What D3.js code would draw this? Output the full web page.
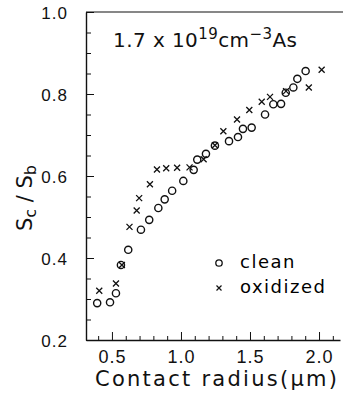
<!DOCTYPE html>
<html>
<head>
<meta charset="utf-8">
<script src="https://cdn.jsdelivr.net/npm/d3@7"></script>
<style>
  body { margin: 0; background: #fff; }
  svg { display: block; font-family: "DejaVu Sans", sans-serif; }
  .axis path, .axis line { stroke: #111; }
  .axis text { font-size: 16px; fill: #111; letter-spacing: 1px; }
</style>
</head>
<body>
<svg width="343" height="404"></svg>
<script>
// clean contacts: radius (um), Sc/Sb
var cleanRadius = [0.393, 0.486, 0.529, 0.565, 0.618, 0.710, 0.770, 0.836, 0.882, 0.936,
  1.017, 1.092, 1.118, 1.181, 1.246, 1.348, 1.413, 1.449, 1.512, 1.609,
  1.669, 1.725, 1.759, 1.814, 1.843, 1.903];
var cleanRatio = [0.290, 0.292, 0.314, 0.383, 0.420, 0.469, 0.493, 0.522, 0.543, 0.564,
  0.588, 0.615, 0.640, 0.654, 0.674, 0.685, 0.695, 0.715, 0.718, 0.750,
  0.775, 0.776, 0.803, 0.816, 0.837, 0.856];

// oxidized contacts
var oxRadius = [0.408, 0.529, 0.572, 0.627, 0.679, 0.697, 0.775, 0.826, 0.893, 0.972,
  1.062, 1.164, 1.246, 1.307, 1.406, 1.495, 1.585, 1.645, 1.761, 1.926, 2.019];
var oxRatio = [0.320, 0.338, 0.383, 0.476, 0.516, 0.546, 0.580, 0.616, 0.619, 0.620,
  0.621, 0.641, 0.675, 0.709, 0.738, 0.761, 0.781, 0.793, 0.807, 0.816, 0.859];

var xMajor = [0.5, 1.0, 1.5, 2.0];
var yMajor = [0.2, 0.4, 0.6, 0.8, 1.0];

var svg = d3.select("svg"),
  width = 343;

var x = d3.scaleLinear().domain([0.312, 2.152]).range([86, 340]);
var y = d3.scaleLinear().domain([0.2, 1.0]).range([340, 12]);

var fmt = d3.format(".1f");

// x axis: minor ticks then major ticks with labels (ticks point inward)
var xMinor = d3.range(4, 22).map(function(d) { return d / 10; })
  .filter(function(d) { return xMajor.indexOf(d) < 0; });

svg.append("g")
  .attr("class", "axis")
  .attr("transform", "translate(0," + y(0.2) + ")")
  .call(d3.axisBottom(x).tickValues(xMinor).tickSizeInner(-4).tickSizeOuter(0).tickFormat(""))
  .call(function(g) { g.select(".domain").remove(); });

svg.append("g")
  .attr("class", "axis")
  .attr("transform", "translate(0," + y(0.2) + ")")
  .call(d3.axisBottom(x).tickValues(xMajor).tickSizeInner(-8).tickSizeOuter(0).tickPadding(10).tickFormat(fmt))
  .call(function(g) { g.select(".domain").attr("stroke-width", 1.4); g.selectAll("text").style("font-size", "18px"); });

// y axis
var yMinor = d3.range(4, 20).map(function(d) { return d / 20; })
  .filter(function(d) { return yMajor.indexOf(+d.toFixed(2)) < 0; });

svg.append("g")
  .attr("class", "axis")
  .attr("transform", "translate(" + x.range()[0] + ",0)")
  .call(d3.axisLeft(y).tickValues(yMinor).tickSizeInner(-5).tickSizeOuter(0).tickFormat(""))
  .call(function(g) { g.select(".domain").remove(); });

svg.append("g")
  .attr("class", "axis")
  .attr("transform", "translate(" + x.range()[0] + ",0)")
  .call(d3.axisLeft(y).tickValues(yMajor).tickSizeInner(-8).tickSizeOuter(0).tickPadding(18).tickFormat(fmt))
  .call(function(g) { g.select(".domain").attr("stroke-width", 1.4); g.selectAll("text").style("font-size", "17px").attr("dy", "0.4em"); });

// top frame line
svg.append("line")
  .attr("x1", x.range()[0]).attr("x2", width)
  .attr("y1", y(1.0)).attr("y2", y(1.0))
  .attr("stroke", "#111").attr("stroke-width", 1.2);

// clean: open circles
svg.append("g")
  .selectAll("circle")
  .data(d3.zip(cleanRadius, cleanRatio))
  .enter().append("circle")
  .attr("cx", function(d) { return x(d[0]); })
  .attr("cy", function(d) { return y(d[1]); })
  .attr("r", 3.6)
  .attr("fill", "none")
  .attr("stroke", "#111")
  .attr("stroke-width", 1.4);

// oxidized: crosses
var cross = "M-3,-3L3,3M-3,3L3,-3";
svg.append("g")
  .selectAll("path")
  .data(d3.zip(oxRadius, oxRatio))
  .enter().append("path")
  .attr("transform", function(d) { return "translate(" + x(d[0]) + "," + y(d[1]) + ")"; })
  .attr("d", cross)
  .attr("fill", "none")
  .attr("stroke", "#111")
  .attr("stroke-width", 1.3);

// legend
var legend = svg.append("g").attr("transform", "translate(219,263)");
legend.append("circle").attr("r", 3.2).attr("fill", "none").attr("stroke", "#111").attr("stroke-width", 1.3);
legend.append("path").attr("d", "M-2.5,22.5L2.5,27.5M-2.5,27.5L2.5,22.5").attr("stroke", "#111").attr("stroke-width", 1.2);
legend.append("text").attr("x", 21).attr("y", 5).attr("font-size", 18).attr("letter-spacing", 1.5).text("clean");
legend.append("text").attr("x", 21).attr("y", 30).attr("font-size", 18).attr("letter-spacing", 1.5).text("oxidized");

// doping annotation
var note = svg.append("text").attr("x", 113).attr("y", 47).attr("font-size", 20).attr("fill", "#111")
  .attr("textLength", 184).attr("lengthAdjust", "spacing");
note.append("tspan").text("1.7 x 10");
note.append("tspan").attr("dy", -8).attr("font-size", 15).text("19");
note.append("tspan").attr("dy", 8).text("cm");
note.append("tspan").attr("dy", -8).attr("font-size", 15).text("\u22123");
note.append("tspan").attr("dy", 8).text("As");

// axis titles
svg.append("text")
  .attr("x", 95).attr("y", 386)
  .attr("font-size", 21)
  .attr("textLength", 242).attr("lengthAdjust", "spacing")
  .attr("fill", "#111")
  .text("Contact radius(\u03bcm)");

var yt = svg.append("text")
  .attr("transform", "translate(32,198) rotate(-90)")
  .attr("text-anchor", "middle")
  .attr("font-size", 21)
  .attr("fill", "#111");
yt.append("tspan").text("S");
yt.append("tspan").attr("dy", 4).attr("font-size", 16).text("c");
yt.append("tspan").attr("dy", -4).text(" / S");
yt.append("tspan").attr("dy", 4).attr("font-size", 16).text("b");
</script>
</body>
</html>
